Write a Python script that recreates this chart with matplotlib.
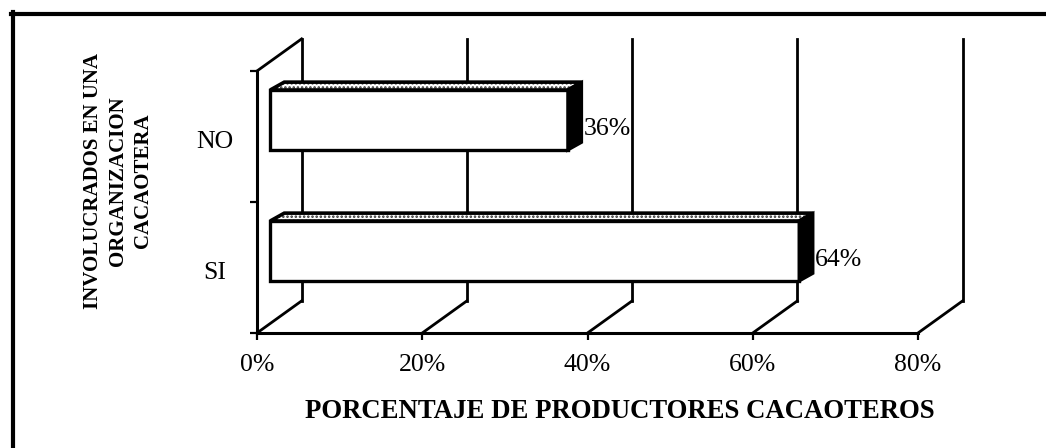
import matplotlib.pyplot as plt
from matplotlib.patches import Polygon
from matplotlib.lines import Line2D

# datos del grafico
categorias = ['SI', 'NO']
porcentajes = [64, 36]
etiquetas = ['64%', '36%']
x_ticks = [0, 20, 40, 60, 80]
x_ticklabels = ['0%', '20%', '40%', '60%', '80%']
titulo_y = 'INVOLUCRADOS EN UNA\nORGANIZACION\nCACAOTERA'
titulo_x = 'PORCENTAJE DE PRODUCTORES CACAOTEROS'

plt.rcParams['font.family'] = ['Liberation Serif', 'DejaVu Serif']
plt.rcParams['hatch.linewidth'] = 1.2

W, H = 1046, 448
fig = plt.figure(figsize=(W / 100, H / 100), dpi=100)
ax = fig.add_axes([257 / W, 115 / H, 661 / W, 262 / H])
ax.set_xlim(0, 80)
ax.set_ylim(0, 2)

# profundidad de la caja 3D (en unidades de datos)
DX, DY = 5.4, 0.245
# desplazamiento, alto y grosor de las barras
BX, BY, BH = 1.6, 0.125, 0.46
SX, SY = 1.7, 0.06

lw = 2.0
# paredes y piso en perspectiva
for t in x_ticks:
    ax.add_line(Line2D([t, t + DX], [0, DY], color='black', lw=lw, clip_on=False))
    ax.add_line(Line2D([t + DX, t + DX], [DY, 2 + DY], color='black', lw=lw, clip_on=False))
ax.add_line(Line2D([0, DX], [2, 2 + DY], color='black', lw=lw, clip_on=False))

for sp in ['top', 'right']:
    ax.spines[sp].set_visible(False)
for sp in ['left', 'bottom']:
    ax.spines[sp].set_linewidth(2.2)

ax.set_xticks(x_ticks)
ax.set_xticklabels(x_ticklabels, fontsize=18.5)
ax.set_yticks([0, 1, 2])
ax.set_yticklabels([])
ax.tick_params(direction='out', length=5, width=1.6, pad=10)

for i, (cat, v, lab) in enumerate(zip(categorias, porcentajes, etiquetas)):
    x0, x1 = BX, BX + v
    y0 = i + 0.5 + BY - BH / 2
    y1 = y0 + BH
    frente = Polygon([(x0, y0), (x1, y0), (x1, y1), (x0, y1)], closed=True,
                     facecolor='white', edgecolor='black', lw=2.4, zorder=3)
    tapa = Polygon([(x0, y1), (x0 + SX, y1 + SY), (x1 + SX, y1 + SY), (x1, y1)],
                   closed=True, facecolor='white', edgecolor='#333333', hatch='....',
                   lw=0, zorder=3)
    borde_tapa = Polygon([(x0, y1), (x0 + SX, y1 + SY), (x1 + SX, y1 + SY), (x1, y1)],
                         closed=True, fill=False, edgecolor='black', lw=2.6, zorder=3)
    lado = Polygon([(x1, y0), (x1 + SX, y0 + SY), (x1 + SX, y1 + SY), (x1, y1)],
                   closed=True, facecolor='black', edgecolor='black', lw=2.0, zorder=3)
    for p in (frente, tapa, borde_tapa, lado):
        ax.add_patch(p)
    ax.text(x1 + SX + 0.2, i + 0.5 + BY - 0.07, lab, fontsize=18.5,
            ha='left', va='center', zorder=4)
    ax.text(-0.0635, i + 0.5 - 0.04, cat, transform=ax.get_yaxis_transform(),
            fontsize=18.5, ha='center', va='center')

fig.text(118 / W, 1 - 181 / H, titulo_y, rotation=90, ha='center', va='center',
         multialignment='center', fontsize=15, fontweight='bold', linespacing=1.35)
fig.text(620 / W, 1 - 412 / H, titulo_x, ha='center', va='center',
         fontsize=19.3, fontweight='bold')

# marco exterior
fig.add_artist(Line2D([13 / W, 13 / W], [0, 1 - 12 / H], color='black', lw=3,
                      transform=fig.transFigure))
fig.add_artist(Line2D([11 / W, 1], [1 - 14 / H, 1 - 14 / H], color='black', lw=3,
                      transform=fig.transFigure))

fig.savefig('out.png', dpi=100)
